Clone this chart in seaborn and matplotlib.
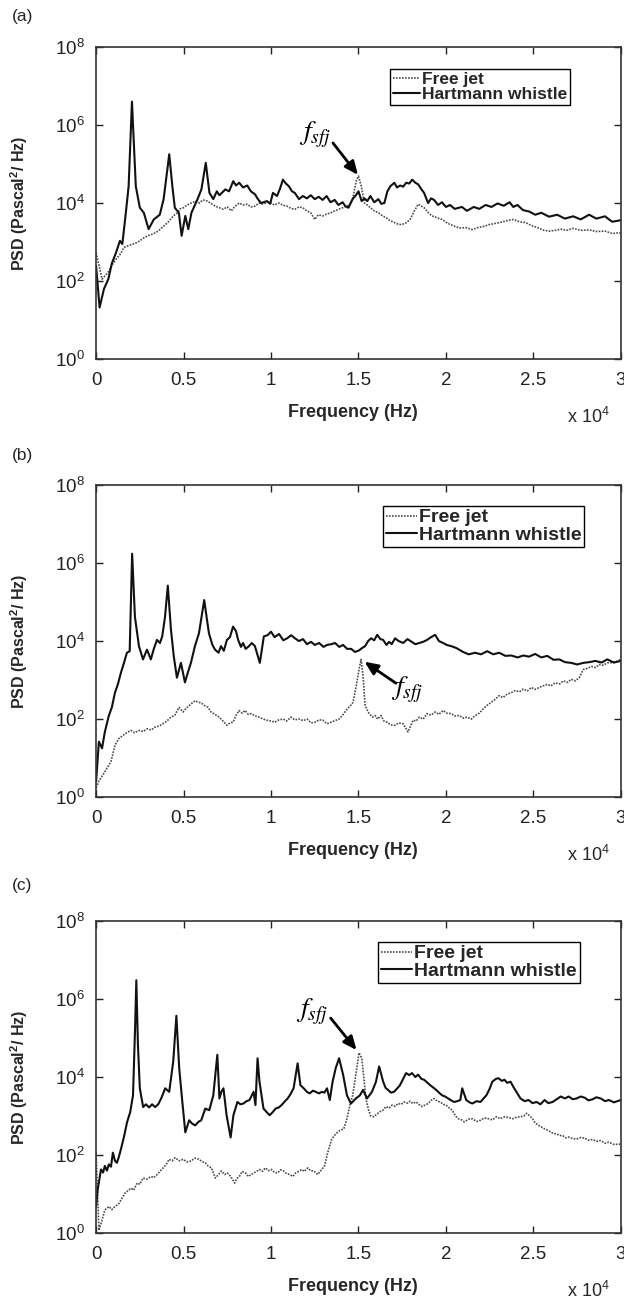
import matplotlib
matplotlib.use("Agg")
import matplotlib.pyplot as plt
from matplotlib.ticker import NullLocator
import seaborn as sns
import pandas as pd

# ---------------- data (frequency Hz, log10 PSD) ----------------
a_hw = [(0, 2.39), (200, 1.32), (450, 1.8), (700, 2.05), (900, 2.45), (1140, 2.73), (1360, 3.03), (1500, 2.95),
        (1700, 3.75), (1860, 4.43), (2050, 6.6), (2270, 4.43), (2500, 3.88), (2730, 3.75), (3000, 3.33),
        (3300, 3.58), (3640, 3.7), (3860, 4.1), (4050, 4.78), (4180, 5.25), (4360, 4.43), (4500, 3.88),
        (4730, 3.75), (4890, 3.16), (5100, 3.67), (5270, 3.33), (5450, 3.75), (5800, 4.1), (6020, 4.35),
        (6270, 5.03), (6480, 4.26), (6700, 4.1), (6900, 4.3), (7050, 4.2), (7390, 4.35), (7600, 4.3),
        (7840, 4.56), (8000, 4.45), (8180, 4.52), (8400, 4.4), (8640, 4.45), (8850, 4.3), (9090, 4.22),
        (9250, 4.1), (9430, 4.0), (9770, 4.05), (9950, 3.98), (10110, 4.26), (10340, 4.18), (10500, 4.35),
        (10680, 4.6), (10850, 4.5), (11020, 4.43), (11200, 4.3), (11360, 4.26), (11600, 4.1), (11820, 4.18),
        (12050, 4.12), (12270, 4.2), (12500, 4.1), (12730, 4.16), (12950, 4.08), (13180, 4.18), (13400, 4.02),
        (13640, 4.08), (13850, 3.95), (14090, 4.02), (14250, 3.92), (14430, 3.88), (14660, 4.1), (14850, 4.2),
        (15000, 4.3), (15180, 4.05), (15340, 4.12), (15500, 4.05), (15680, 4.18), (15900, 4.02), (16140, 4.1),
        (16300, 3.98), (16480, 4.0), (16650, 4.3), (16820, 4.43), (17050, 4.52), (17200, 4.4), (17390, 4.45),
        (17550, 4.42), (17730, 4.52), (17900, 4.5), (18070, 4.6), (18250, 4.52), (18410, 4.48), (18600, 4.35),
        (18750, 4.26), (18980, 4.0), (19150, 4.12), (19320, 4.08), (19550, 3.95), (19770, 4.02), (20000, 3.9),
        (20230, 3.95), (20500, 3.85), (20910, 3.9), (21200, 3.8), (21590, 3.9), (21900, 3.85), (22270, 3.95),
        (22600, 3.9), (22950, 3.99), (23300, 3.93), (23640, 4.02), (23850, 3.9), (24090, 3.95), (24400, 3.82),
        (24770, 3.78), (25100, 3.7), (25450, 3.75), (25900, 3.65), (26360, 3.7), (26800, 3.6), (27270, 3.66),
        (27700, 3.58), (28180, 3.7), (28600, 3.6), (29090, 3.66), (29500, 3.52), (30000, 3.56)]
a_fj = [(0, 2.73), (340, 2.05), (680, 2.22), (900, 2.4), (1140, 2.56), (1400, 2.7), (1590, 2.86), (1800, 2.9),
        (2050, 2.94), (2300, 2.98), (2500, 3.03), (2700, 3.1), (2950, 3.16), (3200, 3.2), (3410, 3.24),
        (3600, 3.3), (3860, 3.41), (4100, 3.5), (4320, 3.62), (4500, 3.7), (4660, 3.75), (4800, 3.85),
        (5000, 3.88), (5200, 3.95), (5450, 4.0), (5700, 4.05), (5910, 4.0), (6100, 4.08), (6360, 4.05),
        (6600, 3.98), (6820, 3.92), (7050, 3.88), (7270, 3.84), (7500, 3.9), (7730, 3.8), (7950, 3.92),
        (8180, 4.0), (8400, 3.95), (8640, 3.97), (8850, 3.9), (9090, 3.92), (9300, 4.0), (9550, 3.97),
        (9800, 4.02), (10000, 4.0), (10200, 3.95), (10450, 4.0), (10700, 3.94), (10910, 3.92), (11150, 3.86),
        (11360, 3.84), (11600, 3.9), (11820, 3.88), (12050, 3.8), (12270, 3.75), (12500, 3.58), (12700, 3.7),
        (12950, 3.67), (13200, 3.72), (13410, 3.75), (13650, 3.8), (13860, 3.84), (14100, 3.88), (14320, 3.92),
        (14500, 3.95), (14660, 4.1), (14890, 4.6), (15000, 4.69), (15160, 4.43), (15340, 4.0), (15500, 3.95),
        (15680, 3.88), (15900, 3.8), (16140, 3.75), (16350, 3.68), (16590, 3.62), (16800, 3.55), (17050, 3.5),
        (17300, 3.45), (17500, 3.45), (17750, 3.5), (17950, 3.58), (18200, 3.8), (18410, 3.97), (18600, 3.92),
        (18750, 3.88), (19000, 3.75), (19200, 3.67), (19500, 3.62), (19770, 3.58), (20100, 3.48), (20450, 3.41),
        (20800, 3.36), (21140, 3.37), (21500, 3.32), (21820, 3.37), (22150, 3.4), (22500, 3.45), (22850, 3.48),
        (23180, 3.51), (23500, 3.55), (23860, 3.58), (24200, 3.52), (24550, 3.5), (24900, 3.42), (25230, 3.37),
        (25600, 3.3), (25910, 3.28), (26250, 3.3), (26590, 3.33), (26900, 3.3), (27270, 3.35), (27700, 3.3),
        (28180, 3.31), (28600, 3.27), (29090, 3.28), (29500, 3.22), (30000, 3.24)]

b_hw = [(0, 0.4), (160, 1.42), (340, 1.25), (500, 1.67), (730, 2.09), (900, 2.3), (1080, 2.68), (1250, 2.9),
        (1420, 3.19), (1600, 3.45), (1760, 3.7), (1920, 3.74), (2060, 6.24), (2220, 4.62), (2450, 3.87),
        (2680, 3.53), (2910, 3.78), (3130, 3.53), (3300, 3.8), (3480, 4.03), (3650, 3.95), (3780, 4.12),
        (3940, 4.62), (4100, 5.42), (4280, 4.29), (4440, 3.61), (4620, 3.06), (4850, 3.44), (5080, 2.94),
        (5250, 3.2), (5420, 3.44), (5650, 3.87), (5880, 4.2), (6180, 5.05), (6450, 4.2), (6650, 3.9),
        (6800, 3.78), (7000, 3.7), (7140, 3.87), (7300, 3.75), (7480, 4.03), (7650, 4.1), (7830, 4.37),
        (8000, 4.25), (8120, 4.03), (8280, 3.85), (8400, 3.95), (8550, 3.8), (8740, 3.87), (8900, 3.95),
        (9080, 3.87), (9360, 3.44), (9590, 4.12), (9800, 4.15), (10000, 4.24), (10200, 4.1), (10460, 4.18),
        (10700, 4.02), (10920, 4.07), (11150, 4.15), (11370, 4.07), (11600, 4.0), (11830, 4.05), (12050, 3.92),
        (12290, 3.98), (12500, 3.9), (12750, 3.95), (13000, 3.85), (13200, 3.9), (13450, 3.92), (13660, 3.95),
        (13900, 3.85), (14120, 3.9), (14350, 3.8), (14580, 3.8), (14800, 3.72), (15030, 3.76), (15200, 3.82),
        (15380, 3.87), (15550, 4.0), (15720, 4.07), (15900, 4.02), (16070, 4.16), (16250, 4.05), (16410, 4.03),
        (16600, 3.9), (16750, 3.98), (16900, 3.92), (17090, 4.07), (17300, 4.0), (17550, 3.95), (17800, 4.05),
        (18010, 3.99), (18250, 3.92), (18470, 3.95), (18700, 3.98), (18920, 4.03), (19150, 4.1), (19380, 4.16),
        (19600, 4.0), (19840, 3.95), (20050, 3.9), (20300, 3.87), (20600, 3.82), (20980, 3.72), (21300, 3.66),
        (21670, 3.7), (22000, 3.66), (22360, 3.74), (22700, 3.66), (23040, 3.7), (23400, 3.62), (23730, 3.63),
        (24100, 3.58), (24420, 3.63), (24750, 3.6), (25100, 3.67), (25450, 3.58), (25790, 3.62), (26150, 3.52),
        (26480, 3.53), (26800, 3.46), (27160, 3.44), (27500, 3.4), (27850, 3.44), (28200, 3.46), (28540, 3.49),
        (28900, 3.45), (29220, 3.53), (29600, 3.45), (30000, 3.49)]
b_fj = [(0, 0.24), (160, 0.41), (390, 0.57), (620, 0.74), (850, 0.91), (1080, 1.33), (1300, 1.5), (1650, 1.62),
        (1990, 1.71), (2200, 1.65), (2450, 1.71), (2700, 1.68), (2910, 1.75), (3150, 1.72), (3360, 1.79),
        (3600, 1.82), (3820, 1.88), (4050, 1.95), (4280, 2.05), (4500, 2.1), (4740, 2.3), (4970, 2.18),
        (5150, 2.28), (5310, 2.34), (5650, 2.47), (5880, 2.43), (6050, 2.4), (6220, 2.34), (6400, 2.3),
        (6570, 2.18), (6800, 2.12), (7030, 2.05), (7250, 1.95), (7480, 1.84), (7650, 1.9), (7830, 1.92),
        (8000, 2.1), (8170, 2.22), (8350, 2.15), (8510, 2.22), (8700, 2.12), (8860, 2.14), (9100, 2.08),
        (9310, 2.05), (9550, 2.0), (9770, 1.97), (10000, 1.95), (10230, 1.92), (10450, 1.98), (10690, 2.0),
        (10900, 1.95), (11140, 2.05), (11350, 1.98), (11600, 2.0), (11850, 1.96), (12060, 2.0), (12300, 1.9),
        (12520, 1.92), (12750, 1.98), (12970, 1.97), (13200, 1.88), (13430, 1.92), (13650, 1.96), (13890, 2.0),
        (14100, 2.1), (14350, 2.26), (14550, 2.35), (14690, 2.43), (14870, 2.85), (15030, 3.27), (15150, 3.53),
        (15260, 3.11), (15380, 2.34), (15610, 2.14), (15800, 2.05), (15950, 2.09), (16100, 2.0), (16290, 2.09),
        (16450, 1.95), (16640, 1.92), (16850, 1.85), (17090, 1.84), (17300, 1.9), (17550, 1.88), (17830, 1.67),
        (18120, 1.97), (18300, 1.95), (18470, 2.05), (18700, 2.0), (18920, 2.14), (19150, 2.1), (19380, 2.18),
        (19600, 2.12), (19840, 2.22), (20050, 2.15), (20300, 2.14), (20500, 2.08), (20760, 2.09), (21000, 2.02),
        (21210, 2.05), (21450, 2.0), (21670, 2.09), (21900, 2.15), (22130, 2.26), (22350, 2.35), (22590, 2.43),
        (22800, 2.5), (23040, 2.6), (23250, 2.55), (23500, 2.64), (23750, 2.68), (23960, 2.73), (24200, 2.7),
        (24420, 2.77), (24650, 2.72), (24880, 2.81), (25100, 2.76), (25330, 2.81), (25550, 2.85), (25790, 2.89),
        (26000, 2.85), (26250, 2.93), (26500, 2.9), (26710, 2.98), (26950, 2.94), (27160, 3.02), (27400, 2.98),
        (27620, 3.06), (27850, 3.27), (28100, 3.3), (28310, 3.35), (28550, 3.32), (28760, 3.4), (29000, 3.38),
        (29220, 3.44), (29600, 3.45), (30000, 3.53)]

c_hw = [(0, 0.68), (90, 1.11), (280, 1.63), (400, 1.55), (500, 1.72), (620, 1.6), (730, 1.76), (850, 1.7),
        (960, 2.06), (1080, 1.85), (1190, 1.8), (1300, 1.95), (1420, 2.15), (1610, 2.5), (1770, 2.84),
        (1950, 3.1), (2110, 3.53), (2230, 5.27), (2300, 6.48), (2390, 4.84), (2500, 3.71), (2690, 3.23),
        (2850, 3.3), (3030, 3.22), (3200, 3.3), (3370, 3.23), (3550, 3.3), (3720, 3.45), (3950, 3.71),
        (4180, 3.62), (4410, 4.4), (4590, 5.57), (4750, 4.23), (4930, 3.36), (5100, 2.58), (5320, 2.89),
        (5500, 2.8), (5670, 2.76), (5850, 2.85), (6010, 2.89), (6240, 3.19), (6470, 3.15), (6700, 3.53),
        (6930, 4.57), (7050, 3.45), (7160, 3.62), (7280, 3.71), (7460, 3.02), (7690, 2.45), (7850, 3.02),
        (8080, 3.36), (8250, 3.3), (8420, 3.32), (8600, 3.38), (8770, 3.41), (9000, 3.62), (9110, 3.28),
        (9230, 4.48), (9340, 3.88), (9570, 3.19), (9750, 3.1), (9920, 3.02), (10100, 3.1), (10260, 3.19),
        (10450, 3.22), (10600, 3.28), (10800, 3.38), (10950, 3.45), (11100, 3.55), (11290, 3.71), (11520, 4.35),
        (11680, 3.79), (11870, 3.71), (12050, 3.62), (12210, 3.58), (12400, 3.65), (12550, 3.62), (12750, 3.58),
        (12900, 3.62), (13050, 3.6), (13200, 3.71), (13360, 3.41), (13520, 3.88), (13700, 4.23), (13890, 4.48),
        (14120, 4.06), (14340, 3.53), (14570, 3.32), (14850, 3.45), (15080, 3.53), (15260, 3.67), (15490, 3.45),
        (15770, 3.62), (16000, 3.88), (16180, 4.27), (16410, 3.88), (16550, 3.72), (16690, 3.67), (16850, 3.6),
        (17030, 3.62), (17200, 3.7), (17370, 3.79), (17550, 3.95), (17720, 4.1), (17900, 4.05), (18060, 4.1),
        (18250, 4.0), (18410, 4.06), (18600, 3.95), (18750, 3.93), (18950, 3.85), (19100, 3.79), (19300, 3.72),
        (19440, 3.67), (19600, 3.6), (19780, 3.53), (19950, 3.5), (20130, 3.45), (20300, 3.4), (20470, 3.36),
        (20650, 3.38), (20820, 3.41), (20930, 3.71), (21160, 3.41), (21350, 3.35), (21510, 3.32), (21750, 3.38),
        (21970, 3.36), (22150, 3.45), (22310, 3.53), (22500, 3.7), (22650, 3.88), (22850, 3.95), (23000, 3.97),
        (23200, 3.9), (23340, 3.93), (23500, 3.85), (23690, 3.88), (23850, 3.75), (24030, 3.62), (24260, 3.45),
        (24500, 3.38), (24720, 3.41), (24950, 3.33), (25180, 3.36), (25400, 3.3), (25640, 3.41), (25850, 3.33),
        (26100, 3.36), (26300, 3.42), (26560, 3.5), (26800, 3.45), (27010, 3.5), (27250, 3.43), (27470, 3.45),
        (27700, 3.5), (27930, 3.47), (28150, 3.4), (28390, 3.43), (28600, 3.48), (28850, 3.45), (29100, 3.38),
        (29310, 3.41), (29600, 3.35), (30000, 3.41)]
c_fj = [(0, 2.06), (160, 0.07), (280, 0.24), (500, 0.59), (730, 0.68), (900, 0.6), (1080, 0.68), (1310, 0.76),
        (1650, 1.02), (2000, 1.15), (2150, 1.1), (2340, 1.28), (2500, 1.25), (2690, 1.41), (2900, 1.38),
        (3140, 1.45), (3300, 1.42), (3490, 1.5), (3650, 1.58), (3830, 1.67), (4000, 1.75), (4180, 1.89),
        (4350, 1.85), (4520, 1.93), (4750, 1.85), (4980, 1.89), (5200, 1.82), (5440, 1.85), (5650, 1.92),
        (5900, 1.89), (6050, 1.83), (6240, 1.8), (6400, 1.72), (6590, 1.67), (6820, 1.41), (7000, 1.5),
        (7160, 1.59), (7350, 1.5), (7500, 1.54), (7700, 1.45), (7920, 1.28), (8050, 1.4), (8190, 1.45),
        (8350, 1.58), (8540, 1.54), (8700, 1.45), (8880, 1.5), (9100, 1.56), (9340, 1.63), (9500, 1.58),
        (9680, 1.67), (9850, 1.6), (10030, 1.63), (10200, 1.55), (10370, 1.54), (10550, 1.62), (10720, 1.59),
        (10900, 1.52), (11060, 1.5), (11250, 1.45), (11410, 1.54), (11600, 1.58), (11750, 1.63), (11900, 1.58),
        (12100, 1.67), (12250, 1.6), (12440, 1.59), (12670, 1.5), (12900, 1.63), (13060, 1.72), (13240, 2.06),
        (13470, 2.41), (13700, 2.54), (13930, 2.63), (14160, 2.67), (14340, 2.93), (14510, 3.28), (14670, 3.53),
        (14850, 4.06), (15030, 4.62), (15190, 4.48), (15310, 3.97), (15420, 3.45), (15580, 3.15), (15700, 3.0),
        (15880, 2.98), (16050, 3.05), (16230, 3.11), (16400, 3.15), (16570, 3.24), (16750, 3.2), (16920, 3.28),
        (17100, 3.25), (17260, 3.32), (17450, 3.3), (17600, 3.36), (17800, 3.33), (17950, 3.38), (18100, 3.32),
        (18290, 3.36), (18450, 3.3), (18630, 3.24), (18800, 3.28), (18980, 3.32), (19150, 3.4), (19330, 3.45),
        (19500, 3.38), (19670, 3.36), (19850, 3.3), (20010, 3.28), (20200, 3.2), (20360, 3.15), (20550, 3.0),
        (20710, 2.93), (20900, 2.9), (21050, 2.85), (21300, 2.92), (21510, 2.93), (21750, 2.86), (21970, 2.89),
        (22200, 2.95), (22430, 2.93), (22650, 2.9), (22890, 2.98), (23100, 2.93), (23350, 2.98), (23600, 2.96),
        (23810, 2.93), (24050, 2.97), (24260, 2.98), (24450, 3.0), (24610, 3.07), (24800, 3.0), (24950, 2.93),
        (25100, 2.82), (25290, 2.76), (25450, 2.72), (25640, 2.67), (25800, 2.64), (25980, 2.59), (26150, 2.55),
        (26330, 2.54), (26500, 2.5), (26670, 2.5), (26850, 2.44), (27010, 2.46), (27250, 2.42), (27470, 2.41),
        (27700, 2.45), (27930, 2.43), (28150, 2.38), (28390, 2.4), (28600, 2.35), (28850, 2.37), (29100, 2.3),
        (29310, 2.33), (29600, 2.27), (30000, 2.28)]

panel_names = ["(a)", "(b)", "(c)"]
series_labels = ["Free jet", "Hartmann whistle"]
x_tick_values = [0, 5000, 10000, 15000, 20000, 25000, 30000]
x_tick_labels = ["0", "0.5", "1", "1.5", "2", "2.5", "3"]
y_tick_values = [1e0, 1e2, 1e4, 1e6, 1e8]
y_tick_labels = [r"$10^{0}$", r"$10^{2}$", r"$10^{4}$", r"$10^{6}$", r"$10^{8}$"]
# annotation of f_sfj: (text x, text log10 y, arrow tail x, tail log y, head x, head log y)
ann_a = (12500, 5.74, 13540, 5.54, 14970, 4.72)
ann_b = (17800, 2.74, 17140, 2.92, 15340, 3.47)
ann_c = (12340, 5.67, 13410, 5.51, 14890, 4.69)

# ---------------- style ----------------
sns.set_style("ticks")
plt.rcParams["font.family"] = ["Liberation Sans", "DejaVu Sans"]
plt.rcParams["mathtext.fontset"] = "custom"
plt.rcParams["mathtext.rm"] = "Liberation Sans"
plt.rcParams["mathtext.it"] = "Liberation Sans:italic"
plt.rcParams["mathtext.bf"] = "Liberation Sans:bold"
plt.rcParams["mathtext.default"] = "regular"

fig = plt.figure(figsize=(6.24, 12.99), dpi=100)

panels = [
    (a_fj, a_hw, 0.7236, ann_a, (0.903, 0.929), 12.5, 0.9875),
    (b_fj, b_hw, 0.3864, ann_b, (0.930, 0.933), 14.0, 0.6495),
    (c_fj, c_hw, 0.0508, ann_c, (0.922, 0.933), 14.0, 0.3187),
]

for i, (fj, hw, bottom, ann, legpos, legsize, labely) in enumerate(panels):
    ax = fig.add_axes([0.154, bottom, 0.841, 0.2402])
    df_fj = pd.DataFrame(fj, columns=["f", "lv"])
    df_hw = pd.DataFrame(hw, columns=["f", "lv"])
    df_fj["psd"] = 10 ** df_fj["lv"]
    df_hw["psd"] = 10 ** df_hw["lv"]
    sns.lineplot(data=df_fj, x="f", y="psd", ax=ax, color="#4a4a4a", linestyle=(0, (1, 0.8)),
                 linewidth=1.2, estimator=None, sort=False, label=series_labels[0])
    sns.lineplot(data=df_hw, x="f", y="psd", ax=ax, color="#111111", linestyle="-",
                 linewidth=1.5, estimator=None, sort=False, label=series_labels[1])
    ax.set_yscale("log")
    ax.set_xlim(0, 30000)
    ax.set_ylim(1, 1e8)
    ax.set_xticks(x_tick_values)
    ax.set_xticklabels(x_tick_labels)
    ax.set_yticks(y_tick_values)
    ax.set_yticklabels(y_tick_labels)
    ax.yaxis.set_minor_locator(NullLocator())
    ax.xaxis.set_minor_locator(NullLocator())
    ax.tick_params(axis="both", which="major", direction="in", top=True, right=True,
                   length=5, width=1.0, labelsize=13.5, colors="#222222")
    ax.tick_params(axis="x", pad=9)
    ax.tick_params(axis="y", pad=8)
    for sp in ax.spines.values():
        sp.set_color("#333333")
        sp.set_linewidth(1.2)
    ax.set_xlabel("Frequency (Hz)", fontsize=13, fontweight="bold")
    ax.set_ylabel("PSD (Pascal$^2$/ Hz)", fontsize=11.5, fontweight="bold")
    ax.xaxis.set_label_coords(0.49, -0.145)
    ax.yaxis.set_label_coords(-0.126, 0.5)
    ax.text(0.979, -0.186, r"x $10^{4}$", transform=ax.transAxes, ha="right", va="center",
            fontsize=13)
    leg = ax.legend(loc="upper right", bbox_to_anchor=legpos, frameon=True, fancybox=False,
                    edgecolor="black", framealpha=1, borderpad=0.15, labelspacing=0.0,
                    handlelength=1.6, handletextpad=0.1, borderaxespad=0,
                    prop={"size": legsize, "weight": "bold"})
    leg.get_frame().set_linewidth(1.0)
    tx, ty, t0x, t0y, hx, hy = ann
    ax.text(tx, 10 ** ty, r"$\mathit{f}_{\mathit{sfj}}$", fontsize=20, math_fontfamily="stix",
            ha="center", va="center", color="black")
    ax.annotate("", xy=(hx, 10 ** hy), xytext=(t0x, 10 ** t0y),
                arrowprops=dict(arrowstyle="-|>,head_length=0.8,head_width=0.35",
                                color="black", lw=2.0, shrinkA=0, shrinkB=0))
    fig.text(0.019, labely, panel_names[i], fontsize=12.5, ha="left", va="center")

fig.savefig("out.png", dpi=100)
